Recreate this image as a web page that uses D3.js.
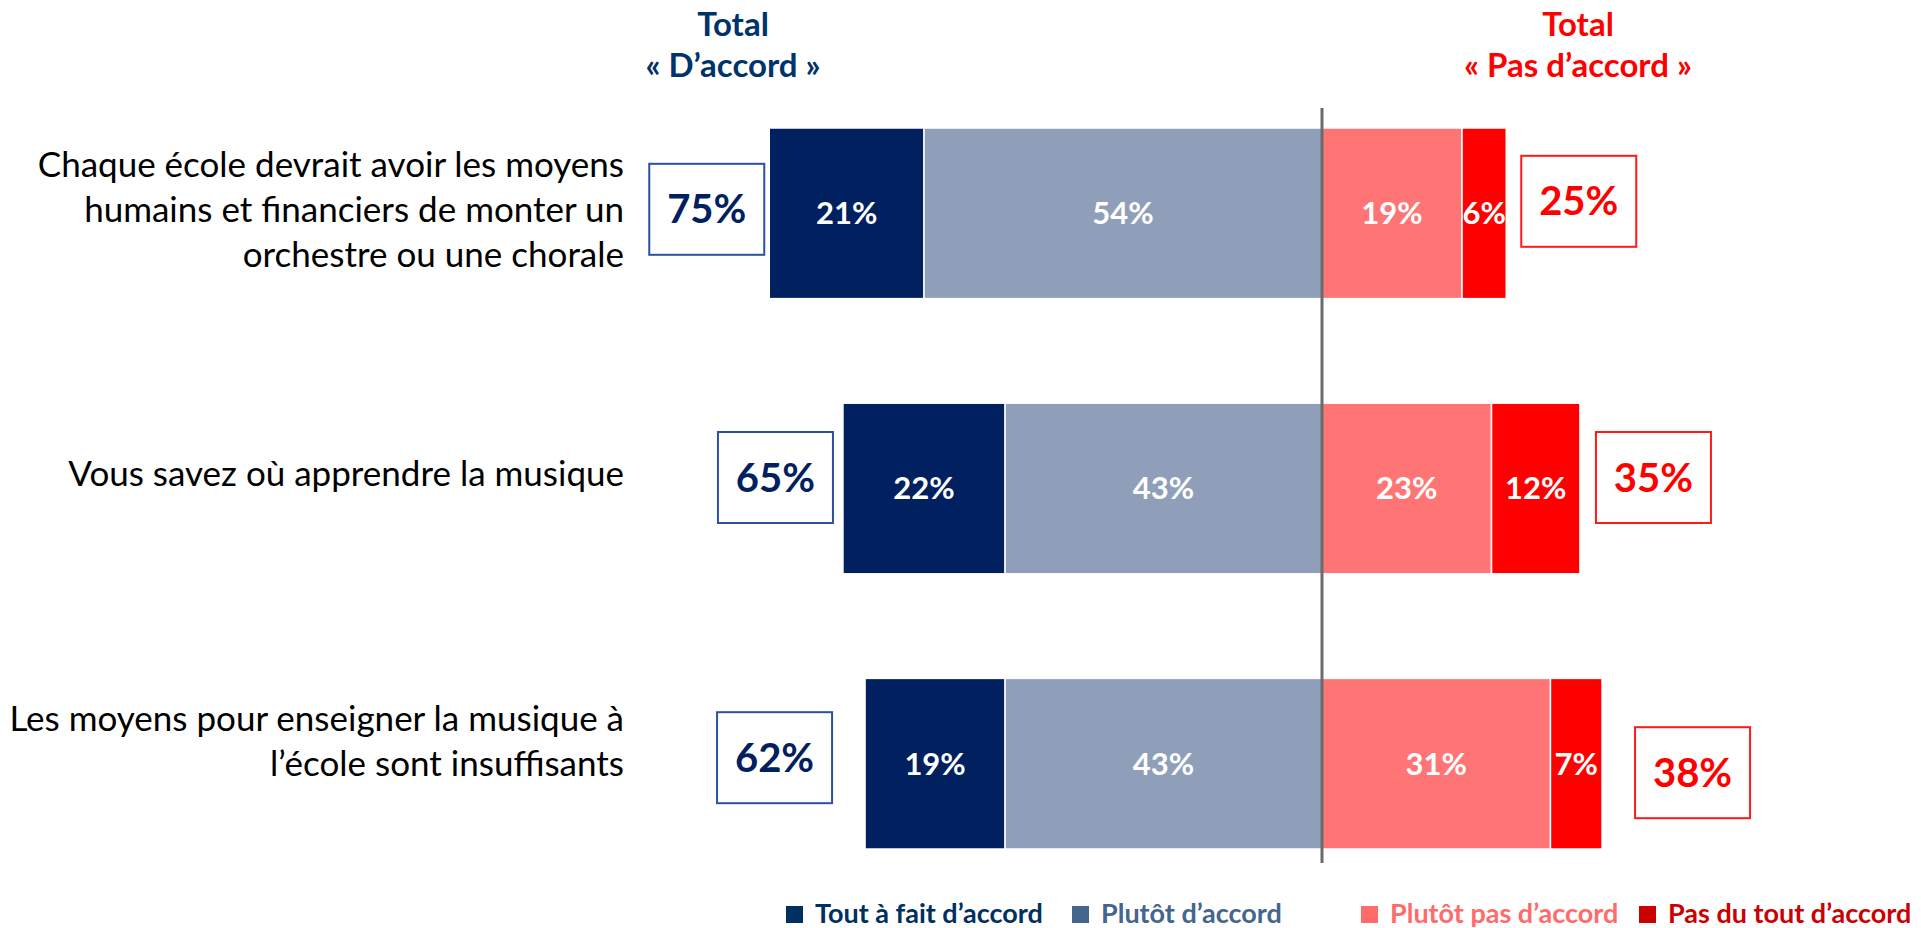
<!DOCTYPE html>
<html>
<head>
<meta charset="utf-8">
<script src="https://cdn.jsdelivr.net/npm/d3@7"></script>
<style>
  html, body { margin: 0; padding: 0; background: #fff; }
  svg { display: block; font-family: Lato, "Open Sans", sans-serif; }
</style>
</head>
<body>
<svg id="chart" width="1921" height="928"></svg>
<script>
// chart data
const categories = [
  ["Chaque école devrait avoir les moyens", "humains et financiers de monter un", "orchestre ou une chorale"],
  ["Vous savez où apprendre la musique"],
  ["Les moyens pour enseigner la musique à", "l’école sont insuffisants"]
];
const toutAFait = [21, 22, 19];
const plutot = [54, 43, 43];
const plutotPas = [19, 23, 31];
const pasDuTout = [6, 12, 7];
const totalAccord = [75, 65, 62];
const totalPasAccord = [25, 35, 38];
const seriesNames = ["Tout à fait d’accord", "Plutôt d’accord", "Plutôt pas d’accord", "Pas du tout d’accord"];

// colours
const barColors = ["#002060", "#8f9fb9", "#ff7575", "#ff0000"];
const legendColors = ["#00305f", "#44668e", "#ff6b6b", "#cc0000"];
const navy = "#00336b";

// small per-row nudges for the label boxes and the question text
const labelDy = [-4, -15, -22];
const leftGap = [5, 10, 33], leftDy = [-4, -11, -6];
const rightGap = [15, 16, 33], rightDy = [-12, -11, 9];

const svg = d3.select("#chart");

const x = d3.scaleLinear().domain([-100, 100]).range([1322 - 737, 1322 + 737]);
const y = d3.scaleBand().domain(d3.range(categories.length)).range([128, 849]).paddingInner(0.38);
const bh = y.bandwidth();

// build segments
var segs = [];
categories.forEach((c, i) => {
  segs.push({ row: i, s: 0, x0: -(toutAFait[i] + plutot[i]), x1: -plutot[i], v: toutAFait[i] });
  segs.push({ row: i, s: 1, x0: -plutot[i], x1: 0, v: plutot[i] });
  segs.push({ row: i, s: 2, x0: 0, x1: plutotPas[i], v: plutotPas[i] });
  segs.push({ row: i, s: 3, x0: plutotPas[i], x1: plutotPas[i] + pasDuTout[i], v: pasDuTout[i] });
});

svg.append("g").selectAll("rect")
  .data(segs)
  .join("rect")
  .attr("x", d => x(d.x0))
  .attr("y", d => y(d.row))
  .attr("width", d => x(d.x1) - x(d.x0))
  .attr("height", bh)
  .attr("fill", d => barColors[d.s])
  .attr("stroke", "#fff")
  .attr("stroke-width", 1.5);

svg.append("g").selectAll("text")
  .data(segs)
  .join("text")
  .attr("x", d => (x(d.x0) + x(d.x1)) / 2)
  .attr("y", d => y(d.row) + bh / 2)
  .attr("dy", "0.35em")
  .attr("text-anchor", "middle")
  .attr("fill", "#fff")
  .attr("font-weight", 700)
  .attr("font-size", 31)
  .text(d => d.v + "%");

// centre line
svg.append("line")
  .attr("x1", x(0)).attr("x2", x(0))
  .attr("y1", 108).attr("y2", 863)
  .attr("stroke", "#6b6b6b")
  .attr("stroke-width", 3);

// question labels
categories.forEach((lines, i) => {
  const cy = y(i) + bh / 2 + labelDy[i];
  const t = svg.append("text")
    .attr("text-anchor", "end")
    .attr("font-size", 35)
    .attr("fill", "#000");
  lines.forEach((l, k) => {
    t.append("tspan")
      .attr("x", 624)
      .attr("y", cy + (k - (lines.length - 1) / 2) * 45)
      .attr("dy", "0.35em")
      .text(l);
  });
});

// total boxes
const boxW = 115, boxH = 91;
function box(cx, cy, val, col, border) {
  svg.append("rect")
    .attr("x", cx - boxW / 2).attr("y", cy - boxH / 2)
    .attr("width", boxW).attr("height", boxH)
    .attr("fill", "#fff")
    .attr("stroke", border)
    .attr("stroke-width", 2);
  svg.append("text")
    .attr("x", cx).attr("y", cy)
    .attr("dy", "0.35em")
    .attr("text-anchor", "middle")
    .attr("font-weight", 700)
    .attr("font-size", 40)
    .attr("fill", col)
    .text(val + "%");
}
categories.forEach((c, i) => {
  const cy = y(i) + bh / 2;
  box(x(-totalAccord[i]) - leftGap[i] - boxW / 2, cy + leftDy[i], totalAccord[i], "#002060", "#2a52a0");
  box(x(totalPasAccord[i]) + rightGap[i] + boxW / 2, cy + rightDy[i], totalPasAccord[i], "#ff0000", "#ff1a1a");
});

// headers
[[733, navy, "« D’accord »"], [1578, "#ff0000", "« Pas d’accord »"]].forEach(h => {
  const t = svg.append("text")
    .attr("text-anchor", "middle")
    .attr("font-weight", 700)
    .attr("font-size", 33)
    .attr("fill", h[1]);
  t.append("tspan").attr("x", h[0]).attr("y", 36).text("Total");
  t.append("tspan").attr("x", h[0]).attr("y", 77).text(h[2]);
});

// legend
const legendX = [786, 1072, 1361, 1639];
const lg = svg.append("g").selectAll("g")
  .data(seriesNames)
  .join("g")
  .attr("transform", (d, i) => "translate(" + legendX[i] + ",906)");
lg.append("rect")
  .attr("width", 17).attr("height", 17)
  .attr("fill", (d, i) => legendColors[i]);
lg.append("text")
  .attr("x", 29).attr("y", 17)
  .attr("font-weight", 700)
  .attr("font-size", 27)
  .attr("fill", (d, i) => legendColors[i])
  .text(d => d);
</script>
</body>
</html>
